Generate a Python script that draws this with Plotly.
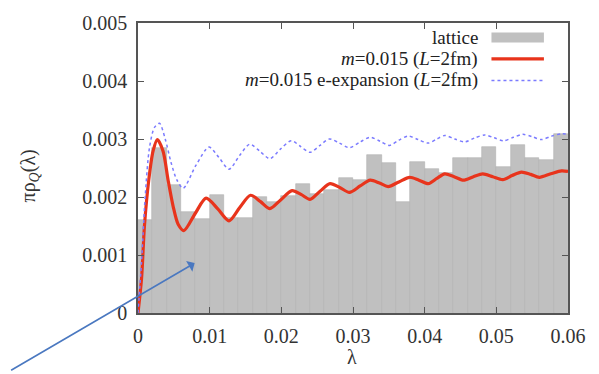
import plotly.graph_objects as go

# ---- data ----
bin_width = 0.002
bin_centers = [0.001 + 0.002 * i for i in range(30)]
lattice = [0.00160, 0.00284, 0.00220, 0.00175, 0.00162, 0.00203, 0.00163, 0.00163,
           0.00200, 0.00191, 0.00202, 0.00222, 0.00206, 0.00212, 0.00233, 0.00229,
           0.00272, 0.00258, 0.00192, 0.00261, 0.00248, 0.00241, 0.00268, 0.00267,
           0.00286, 0.00252, 0.00289, 0.00268, 0.00264, 0.00309]

red_lam = [0, 0.0005, 0.0009, 0.0015, 0.0021, 0.0027, 0.0035, 0.0042, 0.0049, 0.0056,
           0.0064, 0.0080, 0.0095, 0.0111, 0.0127, 0.0142, 0.0157, 0.0171, 0.0184,
           0.0199, 0.0215, 0.0228, 0.0240, 0.0254, 0.0268, 0.0282, 0.0295, 0.0310,
           0.0324, 0.0337, 0.0349, 0.0364, 0.0379, 0.0392, 0.0405, 0.0417, 0.0428,
           0.0441, 0.0454, 0.0468, 0.0481, 0.0495, 0.0509, 0.0522, 0.0535, 0.0548,
           0.0560, 0.0576, 0.0591, 0.0600]
red_val = [0, 0.00060, 0.00150, 0.00229, 0.00279, 0.00299, 0.00279, 0.00229, 0.00184,
           0.00153, 0.00142, 0.00172, 0.00198, 0.00180, 0.00159, 0.00182, 0.00203,
           0.00192, 0.00180, 0.00195, 0.00211, 0.00204, 0.00196, 0.00210, 0.00223,
           0.00216, 0.00208, 0.00219, 0.00229, 0.00224, 0.00218, 0.00226, 0.00234,
           0.00229, 0.00223, 0.00232, 0.00240, 0.00235, 0.00229, 0.00235, 0.00240,
           0.00235, 0.00230, 0.00237, 0.00243, 0.00239, 0.00234, 0.00240, 0.00245,
           0.00244]

blue_lam = [0, 0.0005, 0.0010, 0.0016, 0.0023, 0.0030, 0.0038, 0.0046, 0.0054, 0.0063,
            0.0081, 0.0099, 0.0113, 0.0127, 0.0142, 0.0156, 0.0170, 0.0184, 0.0199,
            0.0214, 0.0227, 0.0240, 0.0254, 0.0267, 0.0281, 0.0295, 0.0310, 0.0324,
            0.0338, 0.0351, 0.0364, 0.0377, 0.0391, 0.0405, 0.0417, 0.0428, 0.0442,
            0.0456, 0.0470, 0.0484, 0.0497, 0.0510, 0.0524, 0.0537, 0.0550, 0.0563,
            0.0577, 0.0591, 0.0600]
blue_val = [0, 0.00090, 0.00200, 0.00285, 0.00320, 0.00327, 0.00300, 0.00260, 0.00230,
            0.00215, 0.00255, 0.00286, 0.00268, 0.00248, 0.00272, 0.00291, 0.00279,
            0.00266, 0.00283, 0.00297, 0.00287, 0.00277, 0.00289, 0.00300, 0.00293,
            0.00285, 0.00295, 0.00303, 0.00296, 0.00289, 0.00298, 0.00305, 0.00299,
            0.00293, 0.00300, 0.00306, 0.00300, 0.00295, 0.00302, 0.00307, 0.00302,
            0.00297, 0.00303, 0.00308, 0.00304, 0.00299, 0.00305, 0.00309, 0.00308]

x_ticks = [0, 0.01, 0.02, 0.03, 0.04, 0.05, 0.06]
x_tick_text = ["0", "0.01", "0.02", "0.03", "0.04", "0.05", "0.06"]
y_ticks = [0, 0.001, 0.002, 0.003, 0.004, 0.005]
y_tick_text = ["0", "0.001", "0.002", "0.003", "0.004", "0.005"]

legend_labels = ["lattice", "<i>m</i>=0.015 (<i>L</i>=2fm)",
                 "<i>m</i>=0.015 e-expansion (<i>L</i>=2fm)"]

FONT = "Liberation Serif"
GRAY = "#c0c0c0"
RED = "#e8341c"
BLUE = "#7b7bff"

fig = go.Figure()
fig.add_trace(go.Bar(x=bin_centers, y=lattice, width=bin_width,
                     marker=dict(color=GRAY, line=dict(color="#b0b0b0", width=0.6)),
                     showlegend=False))
fig.add_trace(go.Scatter(x=red_lam, y=red_val, mode="lines",
                         line=dict(color=RED, width=3.2, shape="spline", smoothing=0.8),
                         showlegend=False))
fig.add_trace(go.Scatter(x=blue_lam, y=blue_val, mode="lines",
                         line=dict(color=BLUE, width=1.5, dash="dot", shape="spline", smoothing=0.8),
                         showlegend=False))

axis_common = dict(showline=True, linecolor="#555", linewidth=1.5, mirror="ticks",
                   ticks="inside", ticklen=6, tickcolor="#555", tickwidth=1,
                   showgrid=False, zeroline=False,
                   tickfont=dict(family=FONT, size=20, color="#333"))

fig.update_xaxes(range=[0, 0.06], tickvals=x_ticks, ticktext=x_tick_text,
                 ticklabelstandoff=4, **axis_common)
fig.update_yaxes(range=[0, 0.005], tickvals=y_ticks, ticktext=y_tick_text,
                 ticklabelstandoff=5, **axis_common)

# legend (gnuplot style: text right-aligned, key on the right)
rows_y = [0.950, 0.876, 0.802]
for lbl, yy in zip(legend_labels, rows_y):
    fig.add_annotation(xref="paper", yref="paper", x=0.792, y=yy, text=lbl,
                       showarrow=False, xanchor="right", yanchor="middle", borderpad=0,
                       font=dict(family=FONT, size=19, color="#222"))
fig.add_shape(type="rect", xref="paper", yref="paper", x0=0.822, x1=0.944,
              y0=rows_y[0] - 0.017, y1=rows_y[0] + 0.017, fillcolor=GRAY, line=dict(width=0))
fig.add_shape(type="line", xref="paper", yref="paper", x0=0.822, x1=0.944,
              y0=rows_y[1], y1=rows_y[1], line=dict(color=RED, width=3.2))
fig.add_shape(type="line", xref="paper", yref="paper", x0=0.822, x1=0.944,
              y0=rows_y[2], y1=rows_y[2], line=dict(color=BLUE, width=1.5, dash="dot"))

# axis titles
fig.add_annotation(xref="paper", yref="paper", x=-0.252, y=0.473,
                   text="πρ<sub><i>Q</i></sub>(λ)", textangle=-90, showarrow=False,
                   xanchor="center", yanchor="middle",
                   font=dict(family=FONT, size=20, color="#333"))
fig.add_annotation(xref="paper", yref="paper", x=0.498, y=-0.151, text="λ",
                   showarrow=False, xanchor="center", yanchor="middle",
                   font=dict(family=FONT, size=20, color="#333"))

# blue pointer arrow
fig.add_annotation(x=0.0079, y=0.00086, xref="x", yref="y", ax=-185, ay=108,
                   axref="pixel", ayref="pixel", text="", showarrow=True,
                   arrowhead=1, arrowsize=1.3, arrowwidth=1.6, arrowcolor="#4a78c0")

fig.update_layout(width=599, height=374, margin=dict(l=138, r=31, t=15, b=61),
                  plot_bgcolor="white", paper_bgcolor="white", bargap=0,
                  font=dict(family=FONT))

fig.write_html("out.html", config={"displayModeBar": False},
               post_script="document.body.style.margin='0';document.body.style.padding='0';")
